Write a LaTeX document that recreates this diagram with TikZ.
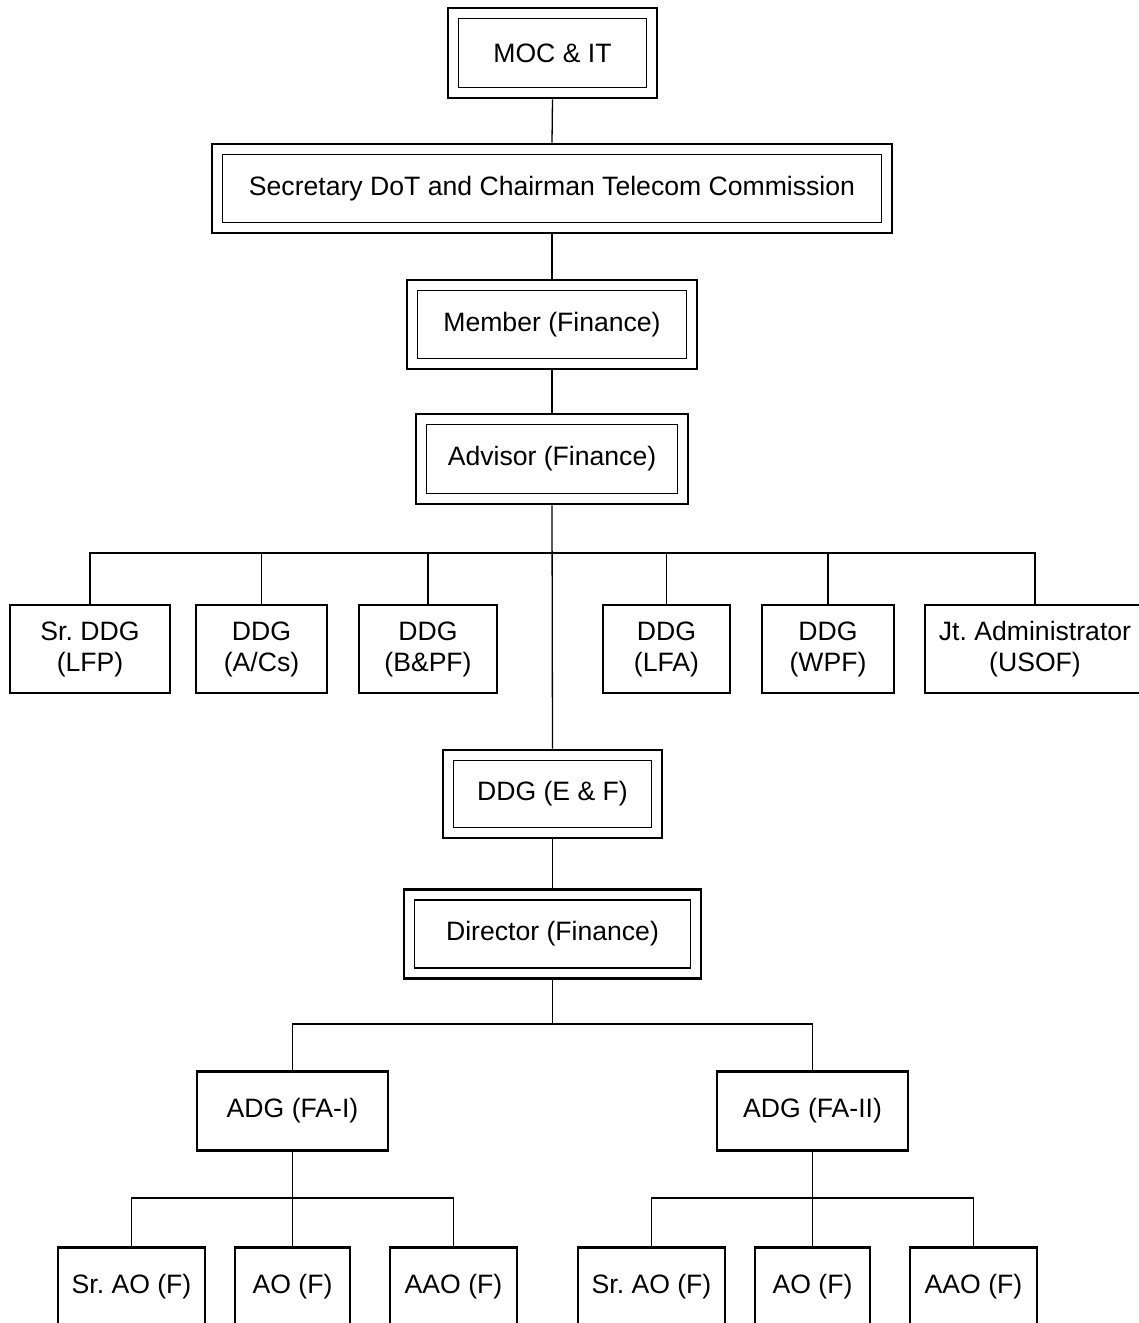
\documentclass[tikz,border=0pt]{standalone}
\usepackage{fontspec}
\setmainfont{Liberation Sans}
\frenchspacing
\begin{document}
\begin{tikzpicture}[x=1pt,y=-1pt,
  txt/.style={font=\fontsize{26.6}{31}\selectfont\frenchspacing, align=center, text=black},
  dbox/.style={txt, draw, line width=2.8pt, inner sep=0pt},
  sbox/.style={txt, draw, line width=2.5pt, inner sep=0pt},
  lowbox/.style={txt, draw, line width=2.5pt, inner sep=0pt, anchor=north, text height=46pt, text depth=60pt},
  inner/.style={line width=1.4pt},
  conn/.style={line width=1.3pt}
]
\useasboundingbox (0,0) rectangle (1139,1323);
\clip (0,0) rectangle (1139,1323);

% double boxes
\node[dbox, minimum width=209, minimum height=90] (moc) at (552.5,53) {MOC \& IT};
\node[dbox, minimum width=680, minimum height=89] (sec) at (552,188.5) {Secretary DoT and Chairman Telecom Commission};
\node[dbox, minimum width=290, minimum height=89] (mem) at (552,324.5) {Member (Finance)};
\node[dbox, minimum width=272, minimum height=90] (adv) at (552,459) {Advisor (Finance)};
\node[dbox, minimum width=219, minimum height=88] (ef) at (552.5,794) {DDG (E \& F)};
\node[dbox, minimum width=297, minimum height=89] (dir) at (552.5,934) {Director (Finance)};
\foreach \n in {moc,sec,mem,adv,ef,dir}
  \draw[inner] ([shift={(12,12)}]\n.north west) rectangle ([shift={(-12,-12)}]\n.south east);

% row of DDG boxes
\node[sbox, minimum width=160, minimum height=88] (b1) at (90,649) {Sr. DDG\\(LFP)};
\node[sbox, minimum width=131, minimum height=88] (b2) at (261.5,649) {DDG\\(A/Cs)};
\node[sbox, minimum width=138, minimum height=88] (b3) at (428,649) {DDG\\(B\&PF)};
\node[sbox, minimum width=127, minimum height=88] (b4) at (666.5,649) {DDG\\(LFA)};
\node[sbox, minimum width=132, minimum height=88] (b5) at (828,649) {DDG\\(WPF)};
\node[sbox, minimum width=220, minimum height=88] (b6) at (1035,649) {Jt. Administrator\\(USOF)};

% ADG boxes
\node[sbox, minimum width=191, minimum height=79] (adg1) at (292.5,1111) {ADG (FA-I)};
\node[sbox, minimum width=191, minimum height=79] (adg2) at (812.5,1111) {ADG (FA-II)};

% bottom boxes
\node[lowbox, minimum width=147] (l1) at (131.5,1246) {Sr. AO (F)};
\node[lowbox, minimum width=115] (l2) at (292.5,1246) {AO (F)};
\node[lowbox, minimum width=127] (l3) at (453.5,1246) {AAO (F)};
\node[lowbox, minimum width=147] (r1) at (651.5,1246) {Sr. AO (F)};
\node[lowbox, minimum width=115] (r2) at (812.5,1246) {AO (F)};
\node[lowbox, minimum width=127] (r3) at (973.5,1246) {AAO (F)};

% bar coordinates
\coordinate (barA) at (552,553);
\coordinate (barB) at (552,1024);
\coordinate (barL) at (292,1198);
\coordinate (barR) at (812,1198);

% connectors
\draw[conn] (moc.south) -- (sec.north);
\draw[conn] (sec.south) -- (mem.north);
\draw[conn] (mem.south) -- (adv.north);
\draw[conn] (adv.south) -- (ef.north);
\draw[conn] (ef.south) -- (dir.north);

\draw[conn] (b1.north) -- (b1.north |- barA) -- (b6.north |- barA) -- (b6.north);
\foreach \n in {b2,b3,b4,b5}
  \draw[conn] (\n.north) -- (\n.north |- barA);

\draw[conn] (dir.south) -- (dir.south |- barB);
\draw[conn] (adg1.north) -- (adg1.north |- barB) -- (adg2.north |- barB) -- (adg2.north);

\draw[conn] (adg1.south) -- (l2.north);
\draw[conn] (l1.north) -- (l1.north |- barL) -- (l3.north |- barL) -- (l3.north);
\draw[conn] (adg2.south) -- (r2.north);
\draw[conn] (r1.north) -- (r1.north |- barR) -- (r3.north |- barR) -- (r3.north);
\end{tikzpicture}
\end{document}
